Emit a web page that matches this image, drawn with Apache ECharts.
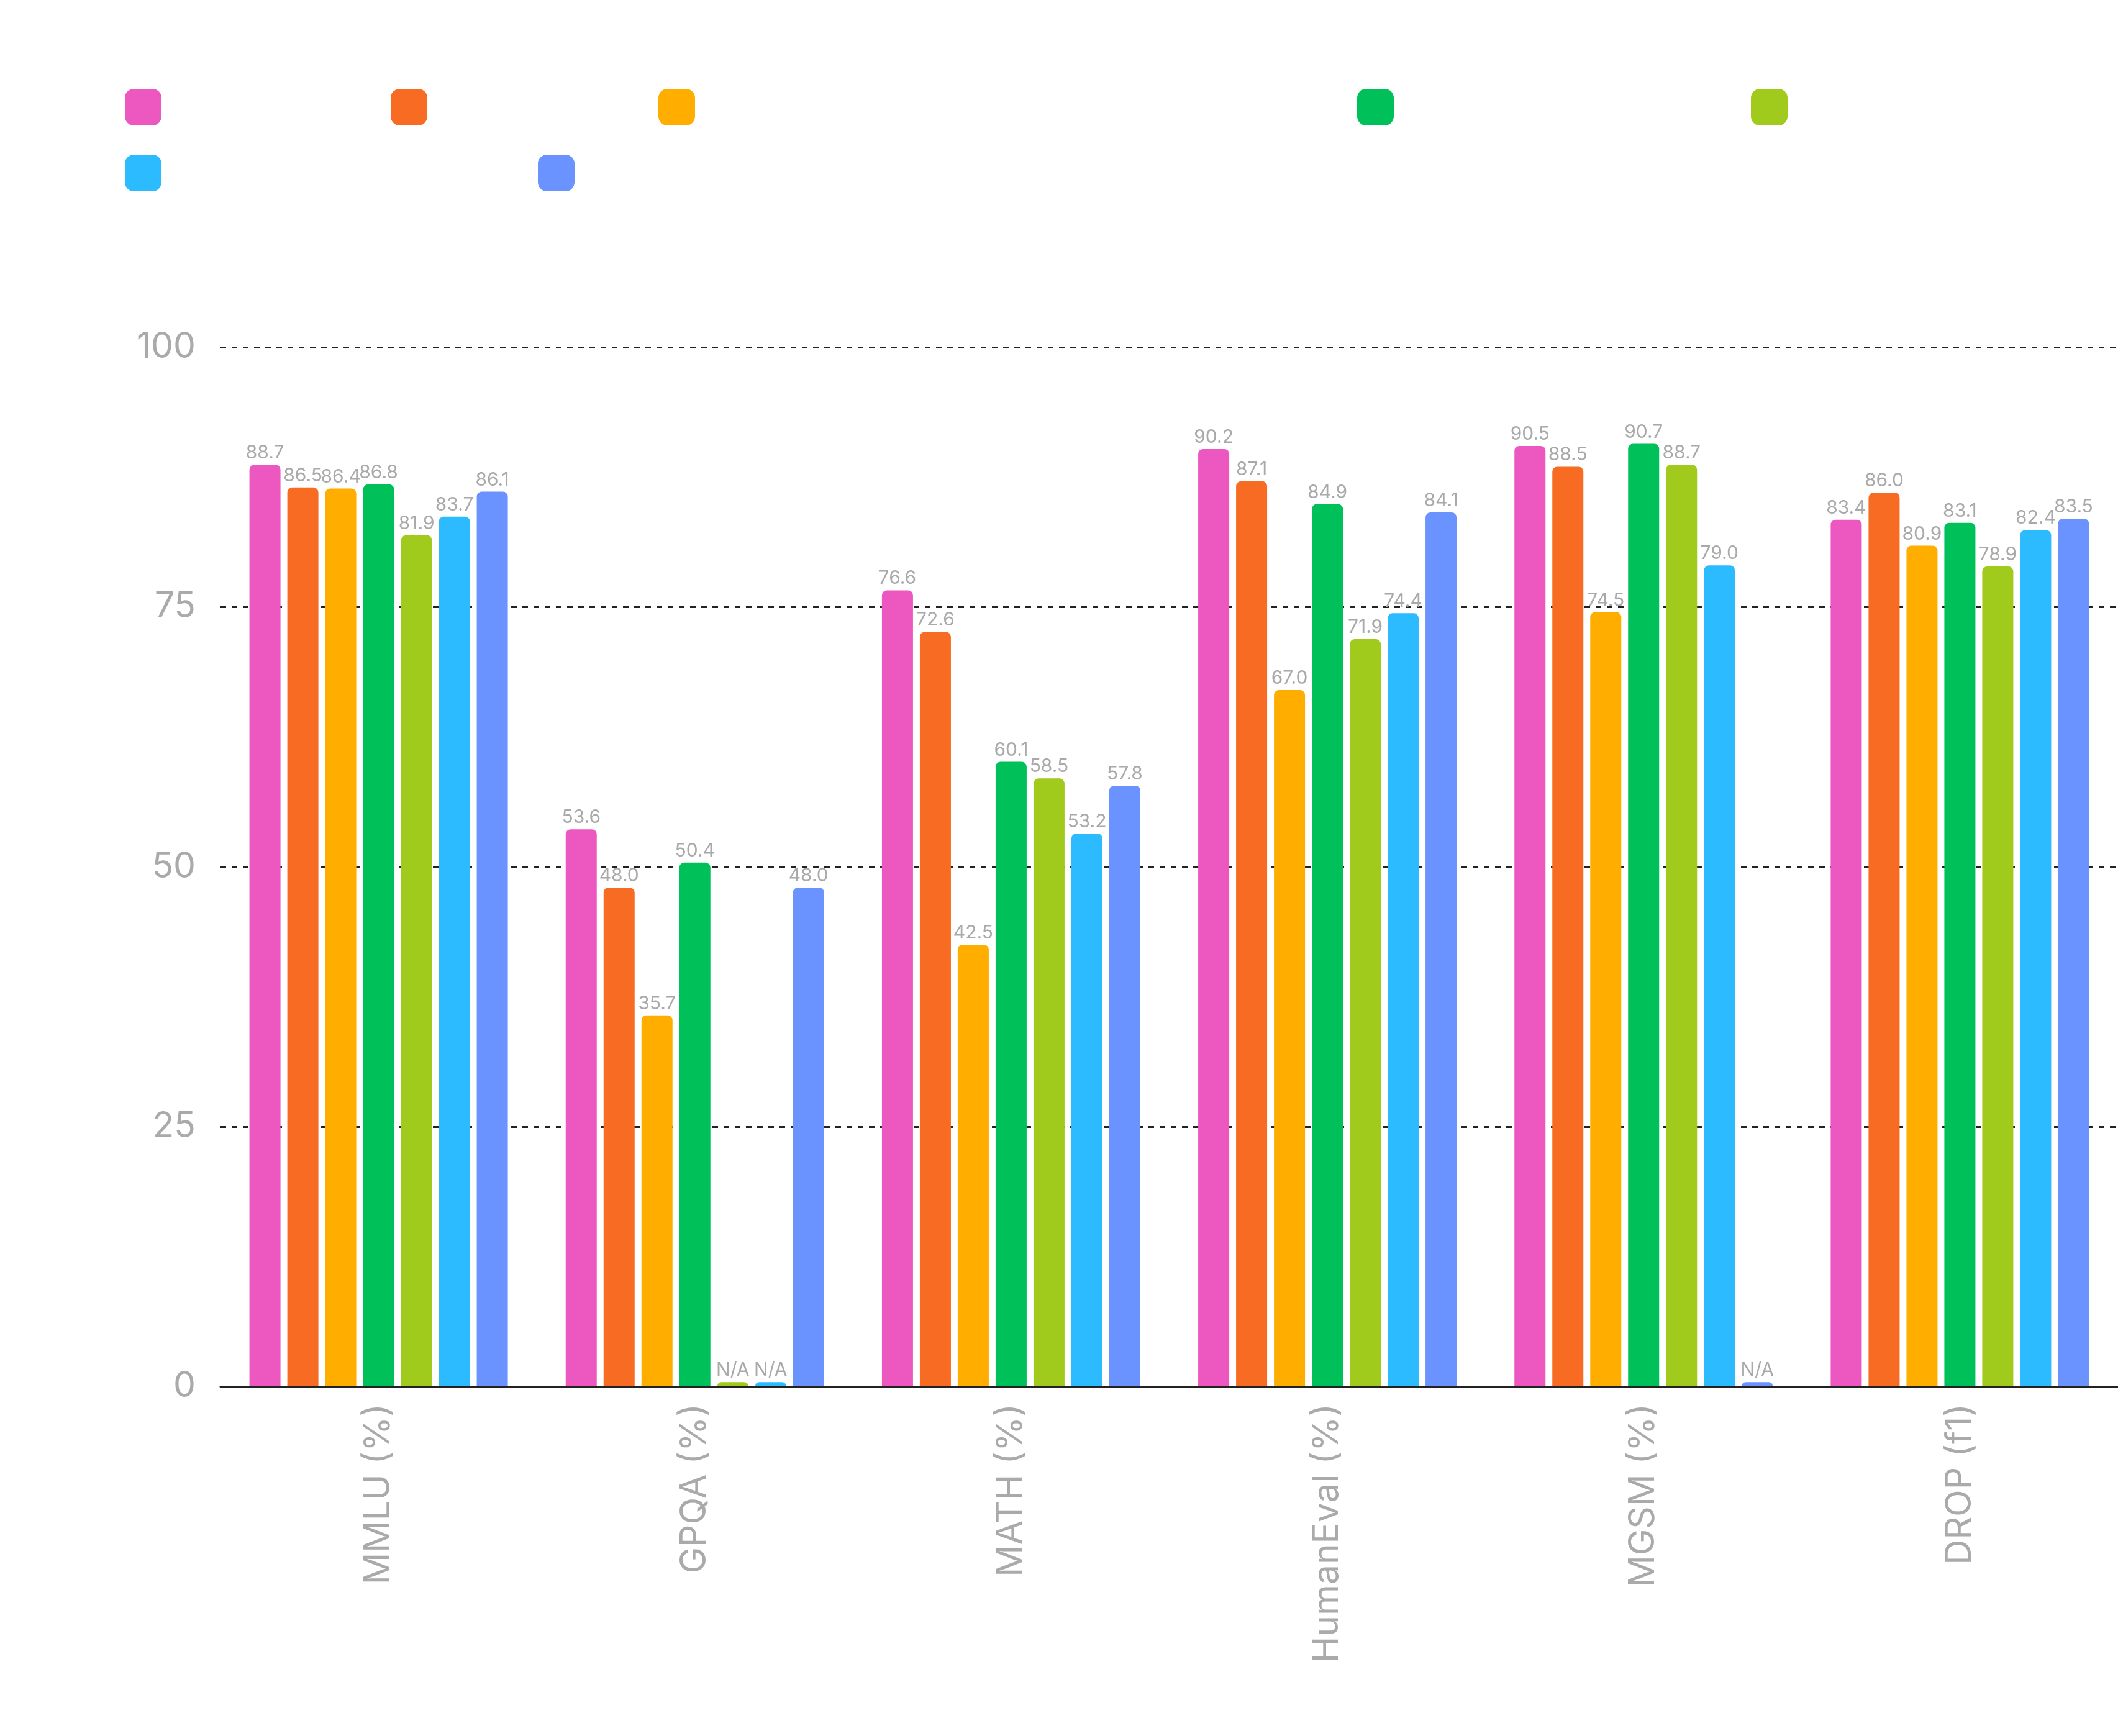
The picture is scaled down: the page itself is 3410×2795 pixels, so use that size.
<!DOCTYPE html>
<html>
<head>
<meta charset="utf-8">
<script src="https://cdn.jsdelivr.net/npm/echarts@6/dist/echarts.min.js"></script>
<style>html,body{margin:0;padding:0;background:#fff}#chart1{width:3410px;height:2795px}</style>
</head>
<body>
<div id="chart1"></div>
<script>
var categories = ['MMLU (%)', 'GPQA (%)', 'MATH (%)', 'HumanEval (%)', 'MGSM (%)', 'DROP (f1)'];
var seriesNames = ['Claude 3.5 Sonnet', 'Claude 3 Opus', 'GPT-4o mini gpt-4o-2024', 'GPT-4o', 'Gemini 1.5 Pro', 'Gemini 1.5 Flash', 'Llama-400b'];
var colors = ['#ec57c0', '#f76b22', '#ffae00', '#00c05a', '#a0ca1c', '#2dbbff', '#6a93ff'];
// null = N/A
var values = [
	[88.7, 53.6, 76.6, 90.2, 90.5, 83.4],
	[86.5, 48.0, 72.6, 87.1, 88.5, 86.0],
	[86.4, 35.7, 42.5, 67.0, 74.5, 80.9],
	[86.8, 50.4, 60.1, 84.9, 90.7, 83.1],
	[81.9, null, 58.5, 71.9, 88.7, 78.9],
	[83.7, null, 53.2, 74.4, 79.0, 82.4],
	[86.1, 48.0, 57.8, 84.1, null, 83.5]
];
var yTicks = [0, 25, 50, 75, 100];

var chart1 = echarts.init(document.getElementById('chart1'));
var legendPos = [[196, 138], [624, 138], [1055, 138], [2180, 138], [2814, 138], [196, 244], [861, 244]];

var legends = seriesNames.map(function (n, i) {
	return {
		left: legendPos[i][0], top: legendPos[i][1],
		data: [n], itemWidth: 59, itemHeight: 59, icon: 'roundRect',
		textStyle: { color: '#ffffff', fontSize: 40 }
	};
});

var series = seriesNames.map(function (n, i) {
	return {
		name: n,
		type: 'bar',
		barWidth: 50,
		barGap: '22%',
		itemStyle: { color: colors[i], borderRadius: [8, 8, 0, 0] },
		label: {
			show: true, position: 'top', distance: 4,
			color: '#a9a9a9', fontSize: 30, fontFamily: 'Inter',
			formatter: function (p) { return values[i][p.dataIndex] === null ? 'N/A' : p.value.toFixed(1); }
		},
		data: values[i].map(function (v) { return v === null ? 0.4 : v; })
	};
});

var option = {
	backgroundColor: '#fff',
	animation: false,
	color: colors,
	legend: legends,
	grid: { left: 355, right: 0, top: 559, bottom: 2795 - 2232 },
	xAxis: {
		type: 'category',
		data: categories,
		axisLine: { lineStyle: { color: '#222', width: 3 } },
		axisTick: { show: false },
		axisLabel: { rotate: 90, color: '#aaaaaa', fontSize: 57, fontFamily: 'Inter', margin: 28 }
	},
	yAxis: {
		type: 'value',
		min: yTicks[0], max: yTicks[yTicks.length - 1], interval: 25,
		axisLine: { show: false },
		axisTick: { show: false },
		axisLabel: { color: '#aaaaaa', fontSize: 57, fontFamily: 'Inter', margin: 40 },
		splitLine: { lineStyle: { color: '#222', type: [9, 9], width: 3 } }
	},
	series: series
};
chart1.setOption(option);
</script>
</body>
</html>
